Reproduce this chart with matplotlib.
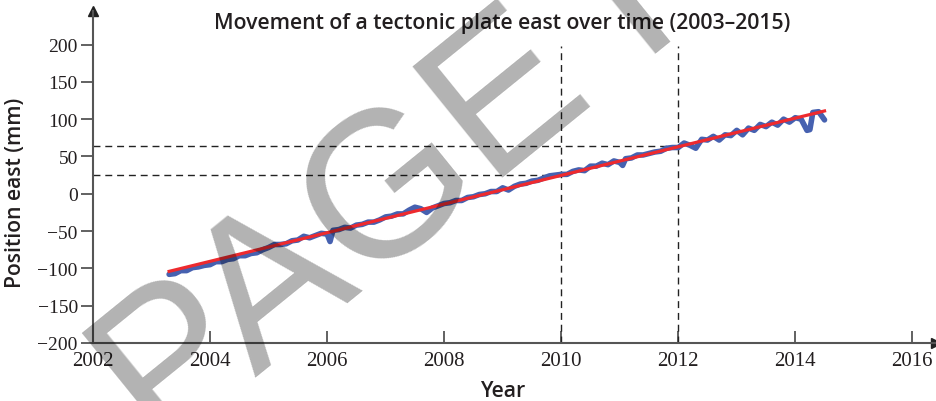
import numpy as np
import matplotlib.pyplot as plt

# GPS east component, sampled every 0.1 yr from 2003.3
start_year = 2003.3
east_mm = [
    -108, -107, -103, -103, -99, -98, -96, -95, -91, -91,
    -88, -87, -83, -83, -80, -79, -75, -72, -68, -68,
    -67, -63, -62, -57, -59, -56, -53, -54, -49, -48,
    -45, -46, -42, -41, -38, -38, -35, -31, -30, -27,
    -27, -22, -18, -20, -25, -19, -16, -13, -12, -9,
    -9, -5, -4, -1, 0, 3, 3, 8, 5, 10,
    13, 14, 17, 18, 21, 24, 25, 26, 26, 30,
    32, 31, 37, 37, 41, 39, 44, 42, 47, 48,
    52, 52, 54, 56, 57, 61, 62, 62, 68, 65,
    61, 73, 72, 77, 72, 79, 78, 85, 79, 88,
    85, 93, 90, 96, 92, 100, 96, 102, 100, 85,
    109, 110, 99,
]
# short glitches between the regular samples
glitch_years = [2006.05, 2011.05, 2014.25]
glitch_mm = [-64, 38, 86]

# straight-line fit
fit_years = [2003.3, 2014.5]
fit_mm = [-104, 111]

# read-off guides
guide_years = [2010, 2012]
guide_mm = [25, 64]

yticks = [-200, -150, -100, -50, 0, 50, 100, 150, 200]
xticks = [2002, 2004, 2006, 2008, 2010, 2012, 2014, 2016]

years = np.round(start_year + 0.1 * np.arange(len(east_mm)), 2)
yrs = np.concatenate([years, glitch_years])
vals = np.concatenate([east_mm, glitch_mm])
order = np.argsort(yrs)
yrs, vals = yrs[order], vals[order]

fig = plt.figure(figsize=(9.36, 4.02), dpi=100)
ax = fig.add_axes([0.0994, 0.1443, 0.9003, 0.8259])
ax.set_xlim(2002, 2016.4)
ax.set_ylim(-200, 245)

for s in ['top', 'right']:
    ax.spines[s].set_visible(False)
for s in ['left', 'bottom']:
    ax.spines[s].set_color('#555555')
    ax.spines[s].set_linewidth(1.5)

# arrow heads on the axes
ax.plot(1, 0, '>', color='#222222', ms=7, transform=ax.transAxes, clip_on=False)
ax.plot(0, 1, '^', color='#222222', ms=7, transform=ax.transAxes, clip_on=False)

ax.plot([guide_years[0]] * 2, [-200, 198], color='#222222', lw=1.0, dashes=(5, 3.5))
ax.plot([guide_years[1]] * 2, [-200, 198], color='#222222', lw=1.0, dashes=(5, 3.5))
ax.plot([2002, guide_years[0]], [guide_mm[0]] * 2, color='#222222', lw=1.0, dashes=(5, 3.5))
ax.plot([2002, guide_years[1]], [guide_mm[1]] * 2, color='#222222', lw=1.0, dashes=(5, 3.5))

ax.plot(yrs, vals, color='#4661b0', lw=4.0, solid_joinstyle='round', solid_capstyle='round')
ax.plot(fit_years, fit_mm, color='#ee2a2e', lw=2.3)

ax.set_xticks(xticks)
ax.set_yticks(yticks)
ax.set_yticklabels([str(v).replace('-', '\u2212') for v in yticks])
ax.tick_params(axis='x', direction='in', length=9, width=1.3, color='#555555',
               labelsize=15, pad=6, labelcolor='#231f20')
ax.tick_params(axis='y', direction='out', length=9, width=1.3, color='#555555',
               labelsize=14, pad=2, labelcolor='#231f20')
for lab in ax.get_xticklabels() + ax.get_yticklabels():
    lab.set_family('Liberation Serif')

title_x = (2009 - 2002) / (2016.4 - 2002)
ax.text(title_x, 0.965, 'Movement of a tectonic plate east over time (2003\u20132015)',
        transform=ax.transAxes, ha='center', va='center', fontsize=15.3,
        family='Open Sans', weight='semibold', color='#231f20')
fig.text(title_x * 0.9003 + 0.0994, 0.025, 'Year', ha='center', va='center',
         fontsize=15.3, family='Open Sans', weight='semibold', color='#231f20')
fig.text(0.017, 1 - 193 / 402, 'Position east (mm)', rotation=90, ha='center', va='center',
         fontsize=15.2, family='Open Sans', weight='semibold', color='#231f20')

# watermark
fig.text(160 / 936, 1 - 455 / 402, 'PAGE PROOF', fontsize=150, family='Liberation Sans',
         rotation=39, rotation_mode='anchor', ha='left', va='baseline',
         color='black', alpha=0.3, zorder=10)

fig.savefig('out.png', dpi=100)
